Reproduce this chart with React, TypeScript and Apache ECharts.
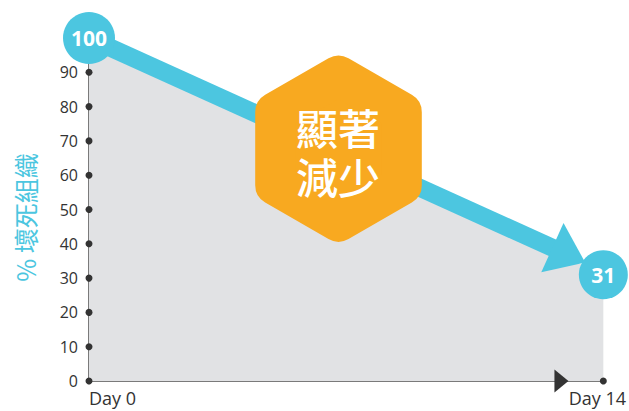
import React, { useEffect, useRef } from "react";
import * as echarts from "echarts";

// ---- data ----
const dayX = [0, 14];
const necrosisPct = [100, 31];
const xTickLabels = ["Day 0", "Day 14"];
const yTicks = [0, 10, 20, 30, 40, 50, 60, 70, 80, 90];
const arrowStart = [0, 100];
const arrowEnd = [13.06, 36.7];
const axisArrowX = 12.86;
const yAxisName = "% 壞死組織";
const calloutLines = ["顯著", "減少"];

const BLUE = "#4CC6E0";
const ORANGE = "#F8A920";
const GREY_AREA = "#E1E2E4";
const DARK = "#333333";
const AXIS_GREY = "#7a7a7a";
const FONT = "'Open Sans', 'Noto Sans CJK TC', sans-serif";
const CJK = "'Noto Sans CJK TC', 'Open Sans', sans-serif";

export default function App() {
  const ref = useRef<HTMLDivElement>(null);
  useEffect(() => {
    if (!ref.current) return;
    const chart = echarts.init(ref.current, null, { renderer: "svg" });

    const hexCx = 338.5;
    const hexCy = 148.7;
    const hexRound = 20;
    const hexR = (83.3 - hexRound) / Math.cos(Math.PI / 6);
    const hexPts: number[][] = [];
    for (let i = 0; i < 6; i++) {
      const a = (-90 + i * 60) * (Math.PI / 180);
      hexPts.push([hexCx + hexR * Math.cos(a), hexCy + hexR * Math.sin(a)]);
    }

    const series: any[] = [
      {
        type: "line",
        z: 2,
        data: dayX.map((x, i) => [x, necrosisPct[i]]),
        symbol: "none",
        lineStyle: { width: 0 },
        areaStyle: { color: GREY_AREA, opacity: 1 },
        silent: true,
        markLine: {
          silent: true,
          z: 5,
          symbol: ["none", "triangle"],
          label: { show: false },
          emphasis: { disabled: true },
          lineStyle: { color: BLUE, width: 18, type: "solid", opacity: 1 },
          data: [
            [
              { coord: arrowStart, symbol: "none" },
              { coord: arrowEnd, symbol: "triangle", symbolSize: [54, 36] },
            ],
          ],
        },
      },
      {
        type: "scatter",
        z: 6,
        silent: true,
        symbol: "circle",
        symbolSize: 7,
        itemStyle: { color: DARK, opacity: 1 },
        data: [...yTicks.map((v) => [dayX[0], v]), [dayX[1], 0]],
      },
      {
        type: "scatter",
        z: 6,
        silent: true,
        symbol: "triangle",
        symbolRotate: -90,
        symbolSize: [23, 14],
        itemStyle: { color: DARK, opacity: 1 },
        data: [[axisArrowX, 0]],
      },
      {
        type: "scatter",
        z: 10,
        silent: true,
        symbol: "circle",
        itemStyle: { color: BLUE, opacity: 1 },
        data: dayX.map((x, i) => ({
          value: [x, necrosisPct[i]],
          symbolSize: i === 0 ? 52 : 49,
        })),
        label: {
          show: true,
          position: "inside",
          formatter: (p: any) => String(p.value[1]),
          color: "#ffffff",
          fontWeight: "bold",
          fontSize: 21,
          fontFamily: FONT,
        },
      },
    ];

    chart.setOption({
      animation: false,
      backgroundColor: "#ffffff",
      grid: { left: 89, right: 22, top: 38, bottom: 30, containLabel: false },
      xAxis: {
        type: "value",
        min: 0,
        max: 14,
        interval: 14,
        axisLine: { show: true, lineStyle: { color: AXIS_GREY, width: 2 } },
        axisTick: { show: false },
        splitLine: { show: false },
        axisLabel: {
          show: true,
          margin: 8,
          color: DARK,
          fontSize: 18,
          fontFamily: FONT,
          alignMinLabel: "left",
          formatter: (v: number) =>
            v === dayX[0] ? xTickLabels[0] : "{r|" + xTickLabels[1] + "}",
          rich: {
            r: {
              color: DARK,
              fontSize: 18,
              fontFamily: FONT,
              padding: [0, 12, 0, 0],
            },
          },
        },
      },
      yAxis: {
        type: "value",
        min: 0,
        max: 100,
        interval: 10,
        name: yAxisName,
        nameLocation: "middle",
        nameGap: 52,
        nameTextStyle: {
          color: BLUE,
          fontSize: 25,
          fontFamily: CJK,
          padding: [0, 16, 0, 0],
        },
        axisLine: { show: true, lineStyle: { color: AXIS_GREY, width: 2 } },
        axisTick: { show: false },
        splitLine: { show: false },
        axisLabel: {
          margin: 11,
          color: DARK,
          fontSize: 16,
          fontFamily: FONT,
          formatter: (v: number) => (yTicks.indexOf(v) >= 0 ? String(v) : ""),
        },
      },
      series,
      graphic: [
        {
          type: "polygon",
          z: 100,
          silent: true,
          shape: { points: hexPts },
          style: {
            fill: ORANGE,
            stroke: ORANGE,
            lineWidth: hexRound * 2,
            lineJoin: "round",
          },
        },
        ...calloutLines.map((t, i) => ({
          type: "text",
          z: 101,
          silent: true,
          x: 338,
          y: 151 + (i === 0 ? -24.5 : 24.5),
          style: {
            text: t,
            fill: "#ffffff",
            fontSize: 42,
            fontWeight: 500,
            fontFamily: CJK,
            align: "center",
            verticalAlign: "middle",
            textAlign: "center",
            textVerticalAlign: "middle",
          },
        })),
      ],
    });

    return () => chart.dispose();
  }, []);

  return (
    <div
      ref={ref}
      style={{ position: "fixed", left: 0, top: 0, width: 629, height: 411 }}
    />
  );
}
